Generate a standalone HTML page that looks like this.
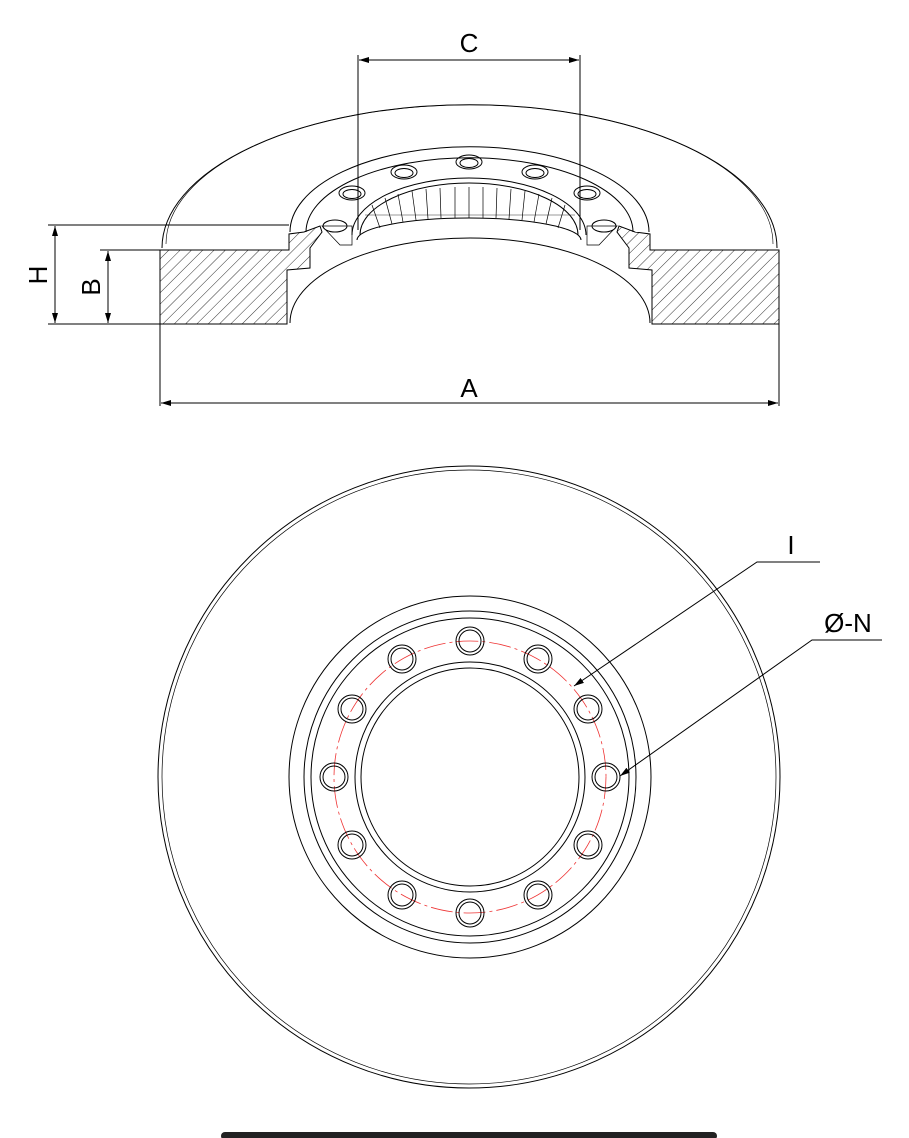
<!DOCTYPE html>
<html><head><meta charset="utf-8"><style>
html,body{margin:0;padding:0;background:#fff;}
svg{display:block;}
text{font-family:"Liberation Sans",sans-serif;fill:#000;}
</style></head><body>
<svg width="909" height="1138" viewBox="0 0 909 1138" xmlns="http://www.w3.org/2000/svg">
<defs>
<pattern id="h" width="8" height="8" patternUnits="userSpaceOnUse" patternTransform="rotate(45)">
<line x1="0" y1="0" x2="0" y2="8" stroke="#000" stroke-width="0.8"/>
</pattern>
<marker id="ar" markerWidth="10" markerHeight="6" refX="10" refY="3" orient="auto-start-reverse" markerUnits="userSpaceOnUse">
<path d="M0,0 L10,3 L0,6 z" fill="#000"/>
</marker>
</defs>
<g fill="none" stroke="#000" stroke-width="1">
<path d="M162 248 A 307 143 0 0 1 777 248"/>
<path d="M166 244 A 303 139 0 0 1 773 244" stroke-width="0.6"/>
<path d="M290 232 A 179 85 0 0 1 649 232"/>
<path d="M306 232 A 163 74 0 0 1 633 232"/>
<path d="M352 235 A 117 57 0 0 1 586 235"/>
<path d="M360 235 A 109 52 0 0 1 578 235"/>
<path d="M357 240 A 112 22 0 0 1 581 240"/>
<path d="M290 323 A 180 85 0 0 1 650 323"/>
<g stroke-width="0.7">
<path d="M372 205 L380 228 M385 198 L392 224 M398 194 L403 222 M412 191 L416 220 M426 189 L428 219 M440 188 L441 218 M455 187 L455 218 M469 187 L469 218 M483 187 L483 218 M497 188 L496 218 M511 189 L509 219 M525 191 L522 220 M539 194 L534 222 M552 198 L546 224 M565 205 L558 228"/>
<path d="M365 215 L575 215" stroke-width="0.4"/>
</g>
<g>
<ellipse cx="352" cy="193" rx="13" ry="7"/><ellipse cx="352" cy="194" rx="9" ry="4.5"/>
<ellipse cx="404" cy="172" rx="13" ry="7"/><ellipse cx="404" cy="173" rx="9" ry="4.5"/>
<ellipse cx="469" cy="162" rx="13" ry="7"/><ellipse cx="469" cy="163" rx="9" ry="4.5"/>
<ellipse cx="535" cy="172" rx="13" ry="7"/><ellipse cx="535" cy="173" rx="9" ry="4.5"/>
<ellipse cx="587" cy="193" rx="13" ry="7"/><ellipse cx="587" cy="194" rx="9" ry="4.5"/>
<ellipse cx="335" cy="226" rx="12" ry="6"/>
<ellipse cx="604" cy="226" rx="12" ry="6"/>
</g>
<path d="M160 250 L289 250 L289 234 L304 232 L320 226 L322 232 L310 248 L310 268 L287 270 L287 324 L160 324 Z" fill="url(#h)"/>
<path d="M779 250 L650 250 L650 234 L635 232 L619 226 L617 232 L629 248 L629 268 L652 270 L652 324 L779 324 Z" fill="url(#h)"/>
<path d="M322 226 L352 226 L352 245 L340 245 Z" stroke-width="0.7"/>
<path d="M617 226 L587 226 L587 245 L599 245 Z" stroke-width="0.7"/>
<line x1="48" y1="225" x2="289" y2="225"/>
<line x1="100" y1="250" x2="160" y2="250"/>
<line x1="48" y1="324" x2="160" y2="324"/>
<line x1="55" y1="226" x2="55" y2="323" marker-start="url(#ar)" marker-end="url(#ar)"/>
<line x1="108" y1="251" x2="108" y2="323" marker-start="url(#ar)" marker-end="url(#ar)"/>
<line x1="160" y1="324" x2="160" y2="406"/>
<line x1="779" y1="324" x2="779" y2="406"/>
<line x1="161" y1="403" x2="778" y2="403" marker-start="url(#ar)" marker-end="url(#ar)"/>
<line x1="358" y1="55" x2="358" y2="230"/>
<line x1="580" y1="55" x2="580" y2="230"/>
<line x1="359" y1="60" x2="579" y2="60" marker-start="url(#ar)" marker-end="url(#ar)"/>
<circle cx="469" cy="777" r="311"/>
<circle cx="469" cy="777" r="307" stroke-width="0.7"/>
<circle cx="470" cy="777" r="181"/>
<circle cx="470" cy="777" r="166"/>
<circle cx="470" cy="777" r="159"/>
<circle cx="470" cy="777" r="115"/>
<circle cx="470" cy="777" r="109"/>
<circle cx="470" cy="777" r="136" stroke="#e33" stroke-width="0.8" stroke-dasharray="22 4 3 4"/>
<g>
<circle cx="470" cy="641" r="14"/><circle cx="470" cy="641" r="11"/>
<circle cx="538" cy="659" r="14"/><circle cx="538" cy="659" r="11"/>
<circle cx="588" cy="709" r="14"/><circle cx="588" cy="709" r="11"/>
<circle cx="606" cy="777" r="14"/><circle cx="606" cy="777" r="11"/>
<circle cx="588" cy="845" r="14"/><circle cx="588" cy="845" r="11"/>
<circle cx="538" cy="895" r="14"/><circle cx="538" cy="895" r="11"/>
<circle cx="470" cy="913" r="14"/><circle cx="470" cy="913" r="11"/>
<circle cx="402" cy="895" r="14"/><circle cx="402" cy="895" r="11"/>
<circle cx="352" cy="845" r="14"/><circle cx="352" cy="845" r="11"/>
<circle cx="334" cy="777" r="14"/><circle cx="334" cy="777" r="11"/>
<circle cx="352" cy="709" r="14"/><circle cx="352" cy="709" r="11"/>
<circle cx="402" cy="659" r="14"/><circle cx="402" cy="659" r="11"/>
</g>
<polyline points="820,562 757,562 574,686" marker-end="url(#ar)"/>
<polyline points="882,640 812,640 620,776" marker-end="url(#ar)"/>
</g>
<text x="469" y="52" font-size="26" text-anchor="middle">C</text>
<text x="469" y="397" font-size="26" text-anchor="middle">A</text>
<text transform="translate(47,275) rotate(-90)" font-size="26" text-anchor="middle">H</text>
<text transform="translate(100,287) rotate(-90)" font-size="26" text-anchor="middle">B</text>
<text x="791" y="554" font-size="26" text-anchor="middle">I</text>
<text x="848" y="632" font-size="26" text-anchor="middle">Ø-N</text>
<rect x="221" y="1132" width="496" height="8" rx="4" fill="#222"/>
</svg>
</body></html>
